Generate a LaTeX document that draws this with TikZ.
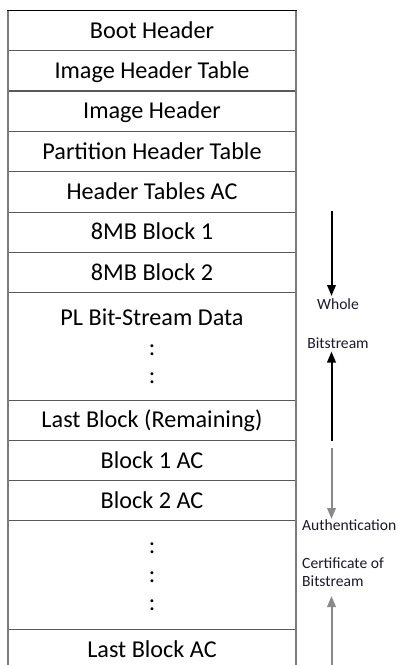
\documentclass[tikz,border=0pt]{standalone}
\usepackage{fontspec}
\setmainfont{Carlito}
\usetikzlibrary{arrows.meta}
\definecolor{rule}{HTML}{5A5A5A}
\definecolor{side}{HTML}{7A7A7A}
\definecolor{garrow}{HTML}{8A8A8A}
\definecolor{lbl}{HTML}{1A1A2A}
\tikzset{
  rowbox/.style={minimum width=288pt, inner sep=0pt, outer sep=0pt,
    text height=15pt, text depth=0pt,
    font=\fontsize{24.2}{28}\selectfont},
  dotsym/.style={anchor=base, inner sep=0pt, font=\fontsize{24.2}{28}\selectfont},
  divider/.style={draw=rule, line width=1.2pt},
  lbltext/.style={inner sep=0pt, text=lbl, font=\fontsize{15.6}{18}\selectfont},
  blackarrow/.style={draw=black, line width=2pt, -{Triangle[length=11pt,width=8.5pt]}},
  grayarrow/.style={draw=garrow, line width=2pt, -{Triangle[length=11pt,width=8.5pt]}}
}
\begin{document}
\begin{tikzpicture}[x=1pt,y=-1pt]
\useasboundingbox (0,0) rectangle (398,665);
\clip (0,0) rectangle (398,665);
\fill[white] (0,0) rectangle (398,665);
% rows: centre y, height
\node[rowbox, minimum height=40.2pt] (r1) at (152,30.6) {Boot Header};
\node[rowbox, minimum height=40.3pt] (r2) at (152,70.85) {Image Header Table};
\node[rowbox, minimum height=40.5pt] (r3) at (152,111.25) {Image Header};
\node[rowbox, minimum height=40.3pt] (r4) at (152,151.65) {Partition Header Table};
\node[rowbox, minimum height=40.4pt] (r5) at (152,192) {Header Tables AC};
\node[rowbox, minimum height=40.3pt] (r6) at (152,232.35) {8MB Block 1};
\node[rowbox, minimum height=40.3pt] (r7) at (152,272.65) {8MB Block 2};
\node[rowbox, minimum height=107.4pt] (r8) at (152,346.5) {};
\node[rowbox, minimum height=40.2pt] (r9) at (152,420.3) {Last Block (Remaining)};
\node[rowbox, minimum height=40.2pt] (r10) at (152,460.5) {Block 1 AC};
\node[rowbox, minimum height=40pt] (r11) at (152,500.6) {Block 2 AC};
\node[rowbox, minimum height=108.7pt] (r12) at (152,574.95) {};
\node[rowbox, minimum height=40.7pt] (r13) at (152,649.65) {Last Block AC};
% texts inside tall rows
\node[dotsym] (pl) at (152,325) {PL Bit-Stream Data};
\node[dotsym] (d1) at (152,355.5) {:};
\node[dotsym] (d2) at (152,383) {:};
\node[dotsym] (d3) at (152,553.5) {:};
\node[dotsym] (d4) at (152,582) {:};
\node[dotsym] (d5) at (152,610.5) {:};
% dividers
\foreach \r in {r1,r2,r3,r4,r5,r6,r7,r8,r9,r10,r11,r12}
  \draw[divider] (\r.south west) -- (\r.south east);
\draw[draw=side, line width=1.3pt] (r1.north east) -- ([yshift=-30pt]r13.south east);
\draw[draw=side, line width=1.8pt] (r1.north west) -- ([yshift=-30pt]r13.south west);
\draw[draw=black, line width=1.3pt] ([xshift=-0.9pt]r1.north west) -- ([xshift=0.6pt]r1.north east);
% arrows
\coordinate (a1s) at (331.5,211);
\coordinate (a1e) at (331.5,296);
\coordinate (a2s) at (331.5,441);
\coordinate (a2e) at (331.5,351.5);
\coordinate (a3s) at (331.5,448);
\coordinate (a3e) at (331.5,519);
\coordinate (a4s) at (331.5,680);
\coordinate (a4e) at (331.5,596);
\draw[blackarrow] (a1s) -- (a1e);
\draw[blackarrow] (a2s) -- (a2e);
\draw[grayarrow] (a3s) -- (a3e);
\draw[grayarrow] (a4s) -- (a4e);
% labels
\node[lbltext, anchor=base] (whole) at (338,309.3) {Whole};
\node[lbltext, anchor=base] (bits) at (338,348.3) {Bitstream};
\node[lbltext, anchor=base west] (auth) at (302,530) {Authentication};
\node[lbltext, anchor=base west] (cert) at (302,568) {Certificate of};
\node[lbltext, anchor=base west] (bits2) at (302,586.7) {Bitstream};
\end{tikzpicture}
\end{document}
